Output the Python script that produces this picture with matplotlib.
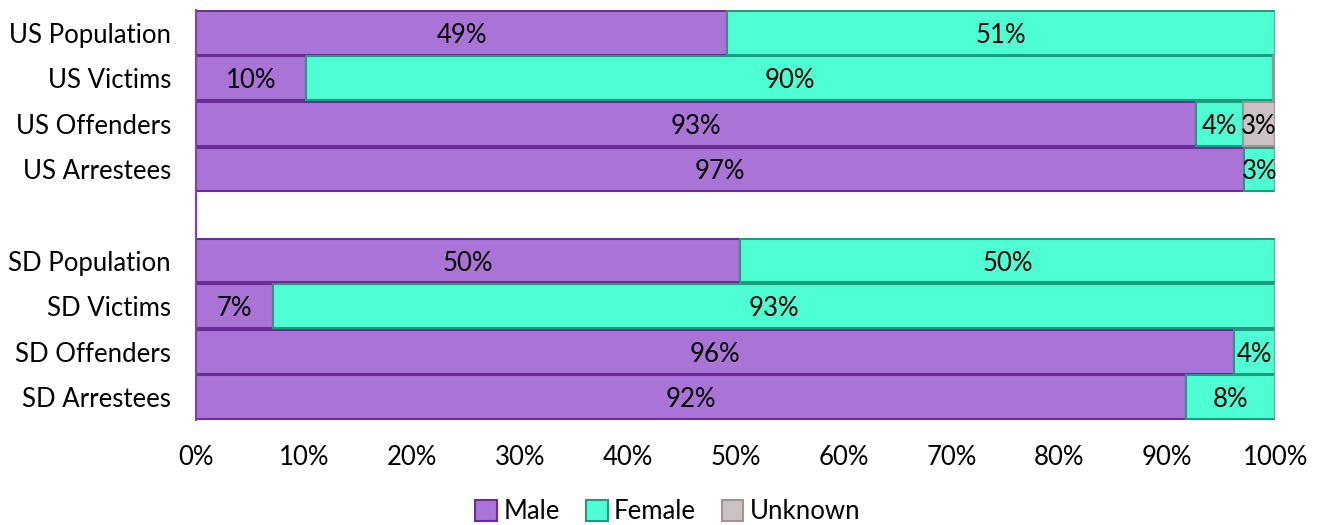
import numpy as np
import matplotlib
matplotlib.use("Agg")
import matplotlib.pyplot as plt

plt.rcParams['font.family'] = ['Lato', 'DejaVu Sans']

# data (percent), top to bottom; "" = spacer row
groups = ["US Population", "US Victims", "US Offenders", "US Arrestees", "",
          "SD Population", "SD Victims", "SD Offenders", "SD Arrestees"]
male = [49.2, 10.2, 92.7, 97.1, 0, 50.4, 7.1, 96.2, 91.7]
female = [50.8, 89.6, 4.3, 2.9, 0, 49.6, 92.9, 3.8, 8.3]
unknown = [0.0, 0.2, 3.0, 0.0, 0, 0.0, 0.0, 0.0, 0.0]

series = [("Male", male, "#A974D6", "#6A2D9A"),
          ("Female", female, "#4DFFD2", "#1F9C7E"),
          ("Unknown", unknown, "#CBC3C3", "#A09494")]

fs = 18.5
fig = plt.figure(figsize=(13.2, 5.25), dpi=100)
ax = fig.add_axes([0.1485, 0.2, 0.8175, 0.781])

y = np.arange(len(groups))
left = np.zeros(len(groups))
for name, vals, fc, ec in series:
    vals = np.array(vals, dtype=float)
    ax.barh(y, vals, left=left, height=0.96, color=fc, edgecolor=ec,
            linewidth=1.5, label=name)
    for yi, (l, v) in enumerate(zip(left, vals)):
        if v >= 1:
            ax.text(l + v / 2, yi, f"{round(v):.0f}%", ha="center",
                    va="center_baseline", fontsize=fs, color="black")
    left += vals

ax.set_xlim(0, 100)
ax.set_ylim(len(groups) - 0.5, -0.5)
ax.set_yticks(y)
ax.set_yticklabels(groups, fontsize=fs)
ax.set_xticks(np.arange(0, 101, 10))
ax.set_xticklabels([f"{t}%" for t in range(0, 101, 10)], fontsize=fs)
ax.tick_params(length=0)
ax.tick_params(axis="x", pad=18)
ax.tick_params(axis="y", pad=18)
for s in ["top", "right", "bottom"]:
    ax.spines[s].set_visible(False)
ax.spines["left"].set_color("#7F3FBF")
ax.spines["left"].set_linewidth(1.5)

handles, labels = ax.get_legend_handles_labels()
fig.legend(handles, labels, loc="center", bbox_to_anchor=(0.506, 0.025), ncol=3,
           frameon=False, fontsize=fs, handlelength=0.85, handleheight=0.85,
           handletextpad=0.25, columnspacing=1.0, borderpad=0)

fig.savefig("out.png", dpi=100)
